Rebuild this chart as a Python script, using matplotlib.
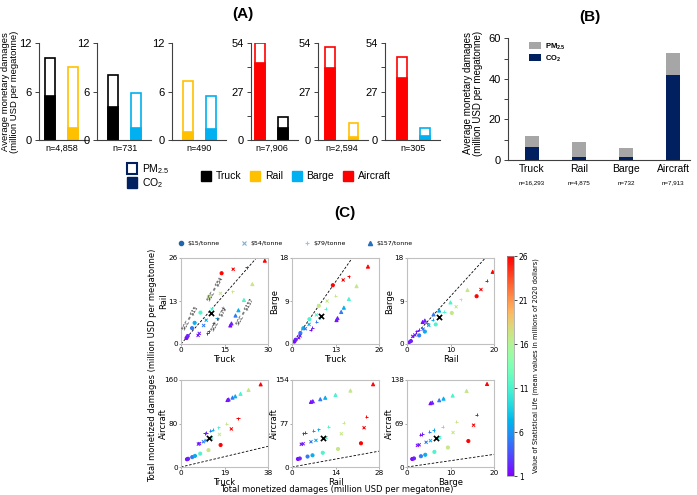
import matplotlib
matplotlib.use('Agg')
import matplotlib.pyplot as plt
from matplotlib.patches import Patch
from matplotlib.lines import Line2D
from matplotlib.transforms import blended_transform_factory
from matplotlib.cm import ScalarMappable
from matplotlib.colors import Normalize

plt.rcParams['font.family'] = 'Liberation Sans'
plt.rcParams['mathtext.fontset'] = 'custom'
plt.rcParams['mathtext.rm'] = 'Liberation Sans'
plt.rcParams['mathtext.bf'] = 'Liberation Sans:bold'

# ---------------- data ----------------
modes = ['Truck', 'Rail', 'Barge', 'Aircraft']
mode_colors = ['black', '#ffc000', '#00b0f0', '#ff0000']

# (A) pairwise comparisons
a_pairs = [('Truck', 'Rail'), ('Truck', 'Barge'), ('Rail', 'Barge'),
           ('Aircraft', 'Truck'), ('Aircraft', 'Rail'), ('Aircraft', 'Barge')]
a_total = [[10.1, 9.0], [8.0, 5.8], [7.3, 5.5], [53.8, 12.6], [51.6, 9.6], [46.4, 6.5]]
a_co2 = [[5.5, 1.45], [4.1, 1.45], [1.0, 1.4], [42.7, 6.9], [39.9, 1.9], [34.3, 2.2]]
a_n = ['n=4,858', 'n=731', 'n=490', 'n=7,906', 'n=2,594', 'n=305']
a_ymax = [12, 12, 12, 54, 54, 54]

# (B) averages
b_co2 = [6.6, 1.4, 1.5, 41.9]
b_pm = [5.3, 7.6, 4.3, 11.0]
b_n = ['n=16,293', 'n=4,875', 'n=732', 'n=7,913']

# (C) scatter, one list per SCC strand ($15, $54, $79, $157)
scc_labels = ['\\$15/tonne', '\\$54/tonne', '\\$79/tonne', '\\$157/tonne']
scc_markers = ['o', 'x', '+', '^']
vsl = [1.2, 2, 5, 7, 11, 17, 26]

c_xlab = ['Truck', 'Truck', 'Rail', 'Truck', 'Rail', 'Barge']
c_ylab = ['Rail', 'Barge', 'Barge', 'Aircraft', 'Aircraft', 'Aircraft']
c_xmax = [30, 26, 20, 38, 28, 20]
c_ymax = [26, 18, 18, 160, 154, 138]
c_meanx = [10.4, 8.8, 7.3, 12.3, 9.9, 6.7]
c_meany = [9.5, 5.9, 5.6, 52.7, 50.8, 45.5]

c_x = [
    [[1.9, 2.3, 3.8, 4.7, 6.7, 9.6, 14.0], [5.9, 6.3, 7.8, 8.7, 10.7, 13.6, 18.0],
     [9.1, 9.5, 11.2, 12.3, 14.4, 17.7, 22.6], [17.0, 17.4, 18.8, 19.8, 21.7, 24.6, 28.9]],
    [[0.7, 1.1, 2.5, 3.4, 5.2, 8.0, 12.2], [2.0, 2.4, 4.0, 5.1, 7.3, 10.5, 15.3],
     [5.6, 6.0, 7.3, 8.3, 10.1, 12.9, 17.0], [13.3, 13.6, 14.7, 15.5, 17.0, 19.3, 22.7]],
    [[0.4, 0.9, 2.8, 4.1, 6.6, 10.3, 16.0], [1.3, 1.8, 3.7, 5.0, 7.5, 11.3, 17.0],
     [2.1, 2.7, 4.6, 5.9, 8.5, 12.4, 18.3], [3.6, 4.1, 6.1, 7.4, 10.0, 13.9, 19.7]],
    [[2.6, 3.1, 4.9, 6.1, 8.4, 12.0, 17.3], [7.6, 8.1, 9.8, 11.0, 13.3, 16.8, 22.0],
     [10.5, 11.0, 12.7, 13.9, 16.2, 19.7, 24.9], [20.3, 20.8, 22.5, 23.7, 26.0, 29.5, 34.8]],
    [[1.9, 2.5, 5.0, 6.6, 9.9, 14.8, 22.2], [3.0, 3.6, 6.1, 7.7, 11.0, 15.9, 23.2],
     [3.7, 4.3, 6.8, 8.4, 11.7, 16.6, 23.9], [6.1, 6.7, 9.1, 10.7, 14.0, 18.8, 26.1]],
    [[1.2, 1.6, 3.2, 4.2, 6.3, 9.4, 14.1], [2.4, 2.8, 4.4, 5.4, 7.5, 10.6, 15.3],
     [3.1, 3.5, 5.1, 6.1, 8.2, 11.3, 16.0], [5.4, 5.8, 7.4, 8.4, 10.5, 13.7, 18.4]],
]
c_y = [
    [[1.8, 2.4, 4.8, 6.4, 9.5, 14.3, 21.4], [2.6, 3.2, 5.6, 7.2, 10.5, 15.3, 22.6],
     [3.2, 3.8, 6.2, 7.8, 11.1, 15.9, 23.2], [5.6, 6.2, 8.6, 10.2, 13.3, 18.1, 25.2]],
    [[0.5, 0.9, 2.3, 3.3, 5.2, 8.0, 12.3], [1.3, 1.7, 3.2, 4.1, 6.1, 9.0, 13.4],
     [3.0, 3.4, 4.7, 5.6, 7.4, 10.1, 14.2], [5.0, 5.4, 6.7, 7.6, 9.4, 12.1, 16.2]],
    [[0.3, 0.6, 1.8, 2.6, 4.1, 6.5, 10.0], [1.6, 1.9, 3.1, 3.9, 5.5, 7.8, 11.4],
     [2.7, 3.0, 4.3, 5.1, 6.8, 9.4, 13.2], [4.6, 4.9, 6.2, 7.0, 8.7, 11.3, 15.1]],
    [[14.2, 15.1, 18.2, 20.4, 24.6, 31.0, 40.5], [42.2, 43.1, 46.5, 48.7, 53.2, 59.9, 70.0],
     [62.2, 63.1, 66.5, 68.7, 73.2, 79.9, 90.0], [123.2, 124.2, 127.6, 130.0, 134.6, 141.6, 152.0]],
    [[14.2, 15.1, 18.5, 20.7, 25.2, 31.9, 42.0], [40.2, 41.2, 44.7, 47.1, 51.8, 58.9, 69.5],
     [59.7, 60.7, 64.2, 66.5, 71.2, 78.3, 88.8], [115.3, 116.3, 120.0, 122.6, 127.6, 135.2, 146.5]],
    [[12.7, 13.6, 17.1, 19.4, 24.0, 30.9, 41.2], [34.3, 35.3, 39.2, 41.8, 46.9, 54.7, 66.3],
     [51.3, 52.3, 56.1, 58.7, 63.8, 71.5, 83.0], [101.2, 102.2, 105.9, 108.4, 113.3, 120.6, 131.7]],
]
scc_text = ['SCC = \\$15', 'SCC = \\$54', 'SCC = \\$79', 'SCC = \\$157']
scc_text_x = [3.3, 12.0, 13.3, 22.2]
scc_text_y = [7.8, 16.5, 7.4, 9.8]

W, H = 697, 495
fig = plt.figure(figsize=(W / 100, H / 100), dpi=100)


def px_axes(left, top, right, bottom):
    return fig.add_axes([left / W, 1 - bottom / H, (right - left) / W, (bottom - top) / H])


col = dict(zip(modes, mode_colors))

# ---------------- (A) ----------------
a_left = [39, 97, 172, 251, 318, 385]
a_off = [10.7, 16, 15.7, 8.8, 12.2, 16.7]
unit = 23.3
for i in range(6):
    w = a_off[i] + 38
    ax = px_axes(a_left[i], 43, a_left[i] + w, 140)
    lo = -a_off[i] / unit
    ax.set_xlim(lo, lo + w / unit)
    ax.set_ylim(0, a_ymax[i])
    for j in range(2):
        c = col[a_pairs[i][j]]
        ax.bar(j, a_total[i][j], 0.42, facecolor='white', edgecolor=c, linewidth=1.2)
        ax.bar(j, a_co2[i][j], 0.42, color=c, edgecolor=c, linewidth=1.2)
    ax.set_yticks([0, a_ymax[i] / 2, a_ymax[i]])
    ax.set_yticklabels(['0', '%g' % (a_ymax[i] / 2), '%g' % a_ymax[i]], fontsize=8)
    if a_ymax[i] == 54:
        ax.set_yticks([13.5, 40.5], minor=True)
    ax.set_xticks([])
    for s in ['top', 'right']:
        ax.spines[s].set_visible(False)
    ax.spines['left'].set_color('#404040')
    ax.spines['bottom'].set_color('#404040')
    ax.tick_params(axis='y', which='both', length=3, width=0.7, pad=2, color='#404040')
    tr = blended_transform_factory(ax.transData, ax.transAxes)
    ax.text(0.5, -0.04, a_n[i], transform=tr, ha='center', va='top', fontsize=6.5)

fig.text(10.5 / W, 1 - 92 / H, 'Average monetary damages\n(million USD per megatonne)',
         rotation=90, ha='center', va='center', fontsize=6.8, linespacing=1.0)
fig.text(243 / W, 1 - 14 / H, '(A)', ha='center', va='center', fontsize=11, fontweight='bold')

fig.legend(handles=[Patch(facecolor='white', edgecolor='#002060', linewidth=1.5, label='PM$_{2.5}$'),
                    Patch(facecolor='#002060', edgecolor='#002060', label='CO$_2$')],
           loc='center left', bbox_to_anchor=(127 / W, 1 - 176 / H), frameon=False, fontsize=7.5,
           handlelength=1.0, handleheight=1.2, handletextpad=0.4, labelspacing=0.05,
           borderpad=0, borderaxespad=0)
fig.legend(handles=[Patch(facecolor=c, edgecolor=c, label=m) for m, c in zip(modes, mode_colors)],
           ncol=4, loc='center left', bbox_to_anchor=(201 / W, 1 - 176 / H), frameon=False,
           fontsize=7.5, handlelength=1.0, handleheight=1.2, handletextpad=0.45,
           columnspacing=0.8, borderpad=0, borderaxespad=0)

# ---------------- (B) ----------------
axb = px_axes(508, 38.3, 690, 160)
xb = range(len(modes))
axb.bar(xb, b_co2, 0.3, color='#002060', label='CO$_\\mathbf{2}$')
axb.bar(xb, b_pm, 0.3, bottom=b_co2, color='#a6a6a6', label='PM$_{\\mathbf{2.5}}$')
axb.set_xlim(-0.51, 3.36)
axb.set_ylim(0, 60)
axb.set_yticks([0, 20, 40, 60])
axb.set_yticks([10, 30, 50], minor=True)
axb.set_xticks(list(xb))
axb.set_xticklabels(modes, fontsize=7.5)
axb.tick_params(axis='y', labelsize=8, length=3, width=0.7, which='both', pad=2, color='#404040')
axb.tick_params(axis='x', length=0, pad=3)
for s in ['top', 'right']:
    axb.spines[s].set_visible(False)
axb.spines['left'].set_color('#404040')
axb.spines['bottom'].set_color('#404040')
trb = blended_transform_factory(axb.transData, axb.transAxes)
for k, t in enumerate(b_n):
    axb.text(k, -0.17, t, transform=trb, ha='center', va='top', fontsize=4.5)
h, l = axb.get_legend_handles_labels()
axb.legend(h[::-1], l[::-1], loc='upper left', bbox_to_anchor=(0.1, 1.0), frameon=False,
           prop={'size': 5.5, 'weight': 'bold'}, handlelength=1.5, handleheight=1.0,
           labelspacing=0.15, handletextpad=0.5, borderaxespad=0)
fig.text(473 / W, 1 - 93 / H, 'Average monetary damages\n(million USD per megatonne)',
         rotation=90, ha='center', va='center', fontsize=7, linespacing=1.0)
fig.text(590 / W, 1 - 17 / H, '(B)', ha='center', va='center', fontsize=11, fontweight='bold')

# ---------------- (C) ----------------
c_left = [181, 292, 407]
c_rows = [(258, 344), (380, 467)]
norm = Normalize(1, 26)
for i in range(6):
    r, cc = divmod(i, 3)
    ax = px_axes(c_left[cc], c_rows[r][0], c_left[cc] + 87, c_rows[r][1])
    ax.axline((0, 0), slope=1, color='black', ls='--', lw=0.6, dashes=(3, 2), zorder=1)
    for s in range(4):
        ax.scatter(c_x[i][s], c_y[i][s], c=vsl, cmap='rainbow', norm=norm,
                   marker=scc_markers[s], s=5, linewidths=0.7, zorder=2)
    ax.scatter([c_meanx[i]], [c_meany[i]], marker='x', color='black', s=14, linewidths=1.2, zorder=3)
    ax.set_xlim(0, c_xmax[i])
    ax.set_ylim(0, c_ymax[i])
    ax.set_xticks([0, c_xmax[i] / 2, c_xmax[i]])
    ax.set_yticks([0, c_ymax[i] / 2, c_ymax[i]])
    ax.set_xticklabels(['0', '%g' % (c_xmax[i] / 2), '%g' % c_xmax[i]], family='DejaVu Sans')
    ax.set_yticklabels(['0', '%g' % (c_ymax[i] / 2), '%g' % c_ymax[i]], family='DejaVu Sans')
    ax.tick_params(labelsize=5.2, length=1.5, width=0.5, pad=0.8, color='#888888')
    for sp in ax.spines.values():
        sp.set_color('#c0c0c0')
        sp.set_linewidth(0.8)
    ax.set_xlabel(c_xlab[i], fontsize=6, family='DejaVu Sans')
    ax.set_ylabel(c_ylab[i], fontsize=6, family='DejaVu Sans')
    ax.xaxis.set_label_coords(0.5, -0.125)
    ax.yaxis.set_label_coords(-0.15, 0.5)
    if i == 0:
        for k in range(4):
            ax.text(scc_text_x[k], scc_text_y[k], scc_text[k], rotation=60, fontsize=3.5,
                    family='DejaVu Sans', ha='center', va='center', zorder=4)

cax = px_axes(507, 256, 514, 476)
cb = fig.colorbar(ScalarMappable(norm=norm, cmap='rainbow'), cax=cax, ticks=[1, 6, 11, 16, 21, 26])
cb.ax.tick_params(labelsize=5.5, length=2, width=0.5, pad=1.5)
for t in cb.ax.get_yticklabels():
    t.set_family('DejaVu Sans')
cb.outline.set_linewidth(0.5)
cb.outline.set_edgecolor('#999999')
cb.set_label('Value of Statistical Life (mean values in millions of 2020 dollars)',
             fontsize=4.8, family='DejaVu Sans', labelpad=3)

leg_c = [Line2D([], [], ls='', marker='o', color='#2166ac', ms=3),
         Line2D([], [], ls='', marker='x', color='#7fb0d0', ms=3.5, mew=0.8),
         Line2D([], [], ls='', marker='+', color='#9ec5e0', ms=3.5, mew=0.8),
         Line2D([], [], ls='', marker='^', color='#2a6fbf', ms=3)]
fig.legend(leg_c, scc_labels, ncol=4, loc='center left', bbox_to_anchor=(178 / W, 1 - 243 / H),
           frameon=False, prop={'family': 'DejaVu Sans', 'size': 4.5}, handlelength=1.0,
           handletextpad=0.5, columnspacing=3.4, borderpad=0, borderaxespad=0)

fig.text(345 / W, 1 - 213 / H, '(C)', ha='center', va='center', fontsize=11, fontweight='bold')
fig.text(337 / W, 1 - 490 / H, 'Total monetized damages (million USD per megatonne)',
         ha='center', va='center', fontsize=6, family='DejaVu Sans')
fig.text(153 / W, 1 - 365 / H, 'Total monetized damages (million USD per megatonne)',
         rotation=90, ha='center', va='center', fontsize=6, family='DejaVu Sans')

fig.savefig('out.png', dpi=100)
